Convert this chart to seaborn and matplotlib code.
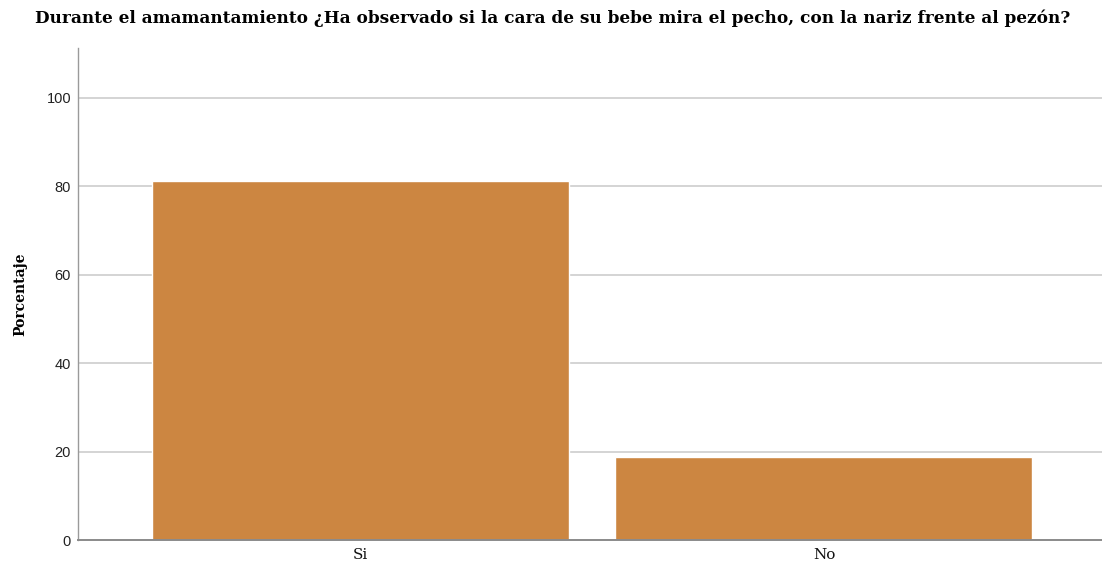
import matplotlib
matplotlib.use("Agg")
import matplotlib.pyplot as plt
import pandas as pd
import seaborn as sns

# Data
categories = ["Si", "No"]
porcentaje = [81.25, 18.75]
y_ticks = [0, 20, 40, 60, 80, 100]

title = "Durante el amamantamiento ¿Ha observado si la cara de su bebe mira el pecho, con la nariz frente al pezón?"

df = pd.DataFrame({"respuesta": categories, "porcentaje": porcentaje})

sns.set_style("white")
fig = plt.figure(figsize=(11.02, 5.70), dpi=100)
ax = fig.add_axes([0.0708, 0.0526, 0.9292, 0.8632])

sns.barplot(data=df, x="respuesta", y="porcentaje", color="#cc8641",
            saturation=1, width=0.9, ax=ax, zorder=2)

ax.set_ylim(0, 111.3)
ax.set_xlim(-0.61, 1.6)
ax.set_yticks(y_ticks)
ax.set_yticklabels([str(t) for t in y_ticks], family="Liberation Sans", fontsize=10.5, color="#222222")
ax.set_xticks(range(len(categories)))
ax.set_xticklabels(categories, family="DejaVu Serif", fontsize=11, color="#111111")
ax.tick_params(axis="x", length=0, pad=6)
ax.tick_params(axis="y", length=0, pad=5)

for t in y_ticks[1:]:
    ax.axhline(t, color="#d4d4d4", lw=1.4, zorder=1)

for s in ["top", "right"]:
    ax.spines[s].set_visible(False)
ax.spines["left"].set_color("#9a9a9a")
ax.spines["bottom"].set_color("#8a8a8a")
ax.spines["left"].set_linewidth(1.0)
ax.spines["bottom"].set_linewidth(1.4)

ax.set_xlabel("")
ax.set_ylabel("Porcentaje", family="DejaVu Serif", fontweight="bold", fontsize=10,
              labelpad=14, color="black")

fig.text(0.032, 0.968, title, family="DejaVu Serif", fontweight="bold", fontsize=12.2,
         ha="left", va="center", color="black")

fig.savefig("out.png", dpi=100)
